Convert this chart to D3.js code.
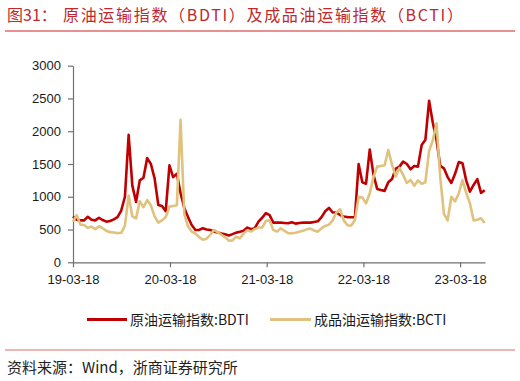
<!DOCTYPE html>
<html>
<head>
<meta charset="utf-8">
<script src="https://cdn.jsdelivr.net/npm/d3@7/dist/d3.min.js"></script>
<style>
  html, body { margin: 0; padding: 0; background: #fff; }
  svg { display: block; }
  .tick text { font-family: "Liberation Sans", Arial, sans-serif; font-size: 13px; fill: #1a1a1a; }
</style>
</head>
<body>
<svg id="chart" width="520" height="381"></svg>
<script>
// ---- Data (biweekly readings from the reference) ----
const dates = [
  "2019-03-18","2019-04-01","2019-04-15","2019-04-29","2019-05-13","2019-05-27","2019-06-10","2019-06-24",
  "2019-07-08","2019-07-22","2019-08-05","2019-08-19","2019-09-02","2019-09-16","2019-09-30","2019-10-14",
  "2019-10-28","2019-11-11","2019-11-25","2019-12-09","2019-12-23","2020-01-06","2020-01-20","2020-02-03",
  "2020-02-17","2020-03-02","2020-03-16","2020-03-30","2020-04-13","2020-04-27","2020-05-11","2020-05-25",
  "2020-06-08","2020-06-22","2020-07-06","2020-07-20","2020-08-03","2020-08-17","2020-08-31","2020-09-14",
  "2020-09-28","2020-10-12","2020-10-26","2020-11-09","2020-11-23","2020-12-07","2020-12-21","2021-01-04",
  "2021-01-18","2021-02-01","2021-02-15","2021-03-01","2021-03-15","2021-03-29","2021-04-12","2021-04-26",
  "2021-05-10","2021-05-24","2021-06-07","2021-06-21","2021-07-05","2021-07-19","2021-08-02","2021-08-16",
  "2021-08-30","2021-09-13","2021-09-27","2021-10-11","2021-10-25","2021-11-08","2021-11-22","2021-12-06",
  "2021-12-20","2022-01-03","2022-01-17","2022-01-31","2022-02-14","2022-02-28","2022-03-14","2022-03-28",
  "2022-04-11","2022-04-25","2022-05-09","2022-05-23","2022-06-06","2022-06-20","2022-07-04","2022-07-18",
  "2022-08-01","2022-08-15","2022-08-29","2022-09-12","2022-09-26","2022-10-10","2022-10-24","2022-11-07",
  "2022-11-21","2022-12-05","2022-12-19","2023-01-02","2023-01-16","2023-01-30","2023-02-13","2023-02-27",
  "2023-03-13","2023-03-27","2023-04-10","2023-04-24","2023-05-08","2023-05-22","2023-06-05","2023-06-19"
];

const bdti = [
  700, 650, 640, 640, 695, 650, 640, 680, 645, 620, 630, 655, 690, 790, 1000, 1944,
  1170, 920, 1250, 1290, 1590, 1500, 1280, 875, 860, 780, 1480, 1300, 1350, 1054, 830, 690,
  570, 494, 494, 520, 500, 494, 470, 455, 440, 428, 410, 430, 453, 465, 480, 530,
  505, 520, 620, 680, 750, 720, 606, 606, 606, 600, 595, 610, 590, 600, 605, 605,
  605, 615, 625, 690, 780, 830, 760, 760, 722, 700, 690, 687, 687, 1500, 1220, 1200,
  1720, 1340, 1120, 1104, 1090, 1220, 1270, 1430, 1460, 1536, 1500, 1419, 1470, 1460, 1790, 1870,
  2465, 2130, 1867, 1470, 1434, 1300, 1210, 1350, 1530, 1511, 1250, 1078, 1180, 1270, 1060, 1100
];

const bcti = [
  621, 720, 575, 570, 525, 545, 505, 550, 520, 480, 460, 455, 445, 450, 560, 1020,
  700, 670, 930, 840, 950, 870, 700, 605, 640, 690, 850, 860, 870, 2173, 740, 550,
  468, 440, 385, 345, 360, 420, 494, 460, 420, 385, 330, 335, 390, 366, 440, 490,
  470, 505, 530, 530, 630, 640, 494, 468, 519, 480, 445, 442, 450, 465, 480, 503,
  515, 485, 468, 520, 555, 575, 640, 760, 810, 640, 565, 560, 640, 1000, 990, 900,
  1050, 1300, 1460, 1470, 1480, 1714, 1490, 1310, 1440, 1333, 1210, 1256, 1170, 1250, 1200, 1220,
  1700, 1860, 2121, 1300, 740, 640, 1000, 930, 1050, 1256, 1060, 900, 640, 650, 671, 600
];

const yTicks = [0, 500, 1000, 1500, 2000, 2500, 3000];
const xTickDates = ["2019-03-18", "2020-03-18", "2021-03-18", "2022-03-18", "2023-03-18"];
const seriesNames = ["原油运输指数:BDTI", "成品油运输指数:BCTI"];
const titleLabel = "图31：";
const titleText = "原油运输指数（BDTI）及成品油运输指数（BCTI）";
const sourceText = "资料来源：Wind，浙商证券研究所";

// ---- Drawing ----
const parse = d3.timeParse("%Y-%m-%d");
const svg = d3.select("#chart");
const colors = ["#c00000", "#dfc27d"];

const x = d3.scaleTime()
  .domain([parse("2019-03-18"), parse("2023-06-20")])
  .range([73, 485]);
const y = d3.scaleLinear().domain([0, 3000]).range([262.3, 65.7]);

// title
svg.append("text")
  .attr("x", 7).attr("y", 21)
  .attr("font-family", "'Noto Sans CJK SC', sans-serif")
  .attr("font-size", 16).attr("fill", "#c0282d")
  .text(titleLabel);
svg.append("text")
  .attr("x", 63).attr("y", 21)
  .attr("font-family", "'Noto Sans CJK SC', sans-serif")
  .attr("font-size", 16).attr("fill", "#c0282d")
  .attr("textLength", 400).attr("lengthAdjust", "spacing")
  .text(titleText);
svg.append("line").attr("x1", 5).attr("x2", 515).attr("y1", 31).attr("y2", 31)
  .attr("stroke", "#e06b6b").attr("stroke-width", 1.5);

// axes
const yAxis = svg.append("g").attr("transform", "translate(73,0)")
  .call(d3.axisLeft(y).tickValues(yTicks).tickSize(5).tickSizeOuter(0).tickPadding(7)
    .tickFormat(d3.format("d")));
const xAxis = svg.append("g").attr("transform", "translate(0,262.3)")
  .call(d3.axisBottom(x).tickValues(xTickDates.map(parse)).tickSize(5).tickSizeOuter(0).tickPadding(7)
    .tickFormat(d3.timeFormat("%y-%m-%d")));
[yAxis, xAxis].forEach(g => {
  g.selectAll("path.domain, line").attr("stroke", "#707070").attr("stroke-width", 1.2);
});

// lines
const line = d3.line()
  .x((d, i) => x(parse(dates[i])))
  .y(d => y(d));
[bdti, bcti].forEach((s, k) => {
  svg.append("path")
    .datum(s)
    .attr("d", line)
    .attr("fill", "none")
    .attr("stroke", colors[k])
    .attr("stroke-width", 2.6)
    .attr("stroke-linejoin", "round");
});

// legend
const legendItems = [
  { x1: 87, x2: 127, tx: 130 },
  { x1: 270, x2: 311, tx: 314 }
];
legendItems.forEach((it, k) => {
  svg.append("line").attr("x1", it.x1).attr("x2", it.x2).attr("y1", 319.5).attr("y2", 319.5)
    .attr("stroke", colors[k]).attr("stroke-width", 3);
  svg.append("text").attr("x", it.tx).attr("y", 324.5)
    .attr("font-family", "'Noto Sans CJK SC', 'Liberation Sans', sans-serif")
    .attr("font-size", 14).attr("fill", "#1a1a1a")
    .text(seriesNames[k]);
});

// bottom rule and source
svg.append("line").attr("x1", 5).attr("x2", 515).attr("y1", 350).attr("y2", 350)
  .attr("stroke", "#e06b6b").attr("stroke-width", 1.2);
svg.append("text").attr("x", 7).attr("y", 373)
  .attr("font-family", "'Noto Sans CJK SC', sans-serif")
  .attr("font-size", 15).attr("fill", "#222")
  .text(sourceText);
</script>
</body>
</html>
